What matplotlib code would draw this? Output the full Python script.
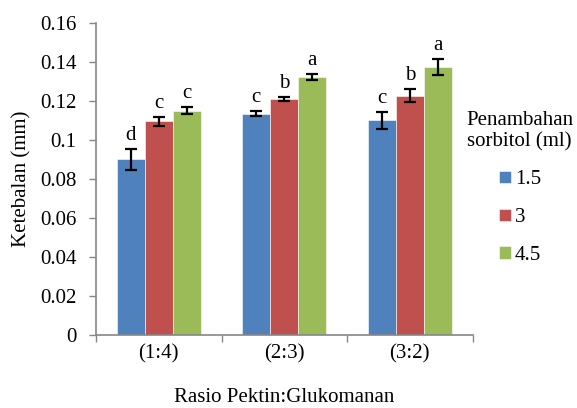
import numpy as np
import matplotlib.pyplot as plt

plt.rcParams['font.family'] = 'Liberation Serif'

rasio = ['(1:4)', '(2:3)', '(3:2)']
sorbitol = ['1.5', '3', '4.5']
ketebalan = [
    [0.090, 0.1135, 0.110],   # 1.5 ml
    [0.1095, 0.121, 0.1228],  # 3 ml
    [0.115, 0.1323, 0.1375],  # 4.5 ml
]
galat = [
    [0.0052, 0.0013, 0.0045],
    [0.0023, 0.0012, 0.0035],
    [0.0019, 0.0013, 0.0040],
]
notasi = [
    ['d', 'c', 'c'],
    ['c', 'b', 'b'],
    ['c', 'a', 'a'],
]
warna = ['#4F81BD', '#C0504D', '#9BBB59']

fig = plt.figure(figsize=(5.77, 4.08), dpi=100)
ax = fig.add_axes([0.1664, 0.179, 0.6526, 0.7646])

x = np.arange(len(rasio))
w = 0.223
for i in range(3):
    pos = x + (i - 1) * w
    ax.bar(pos, ketebalan[i], w, color=warna[i], label=sorbitol[i],
           edgecolor='white', linewidth=0.4, zorder=2)
    ax.errorbar(pos, ketebalan[i], yerr=galat[i], fmt='none', ecolor='black',
                elinewidth=1.6, capsize=4.5, capthick=1.6, zorder=3)
    for xp, v, e, t in zip(pos, ketebalan[i], galat[i], notasi[i]):
        ax.annotate(t, (xp, v + e), xytext=(0, 3), textcoords='offset points',
                    ha='center', va='bottom', fontsize=15)

ax.set_xlim(-0.5, 2.5)
ax.set_ylim(0, 0.16)
ax.set_yticks(np.arange(0, 0.161, 0.02))
ax.set_yticklabels(['0', '0.02', '0.04', '0.06', '0.08', '0.1', '0.12', '0.14', '0.16'])
ax.set_xticks([-0.5, 0.5, 1.5, 2.5])
ax.set_xticklabels([])
ax.set_xticks(x, minor=True)
ax.set_xticklabels(rasio, minor=True)
ax.tick_params(axis='x', which='minor', length=0, pad=7, labelsize=15)
ax.tick_params(axis='x', which='major', length=5, color='#868686', width=1)
ax.tick_params(axis='y', length=5, color='#868686', width=1, labelsize=15, pad=9)

for s in ['top', 'right']:
    ax.spines[s].set_visible(False)
for s in ['left', 'bottom']:
    ax.spines[s].set_color('#868686')
    ax.spines[s].set_linewidth(1.2)

ax.set_ylabel('Ketebalan (mm)', fontsize=15, labelpad=6)
ax.set_xlabel('Rasio Pektin:Glukomanan', fontsize=15, labelpad=17)

leg = fig.legend(title='Penambahan\nsorbitol (ml)', loc='upper left',
                 bbox_to_anchor=(0.776, 0.775), frameon=False, fontsize=15,
                 title_fontsize=15, handlelength=0.55, handleheight=0.55,
                 handletextpad=0.2, labelspacing=0.9)
leg._legend_box.align = 'center'

fig.savefig('out.png', dpi=100)
